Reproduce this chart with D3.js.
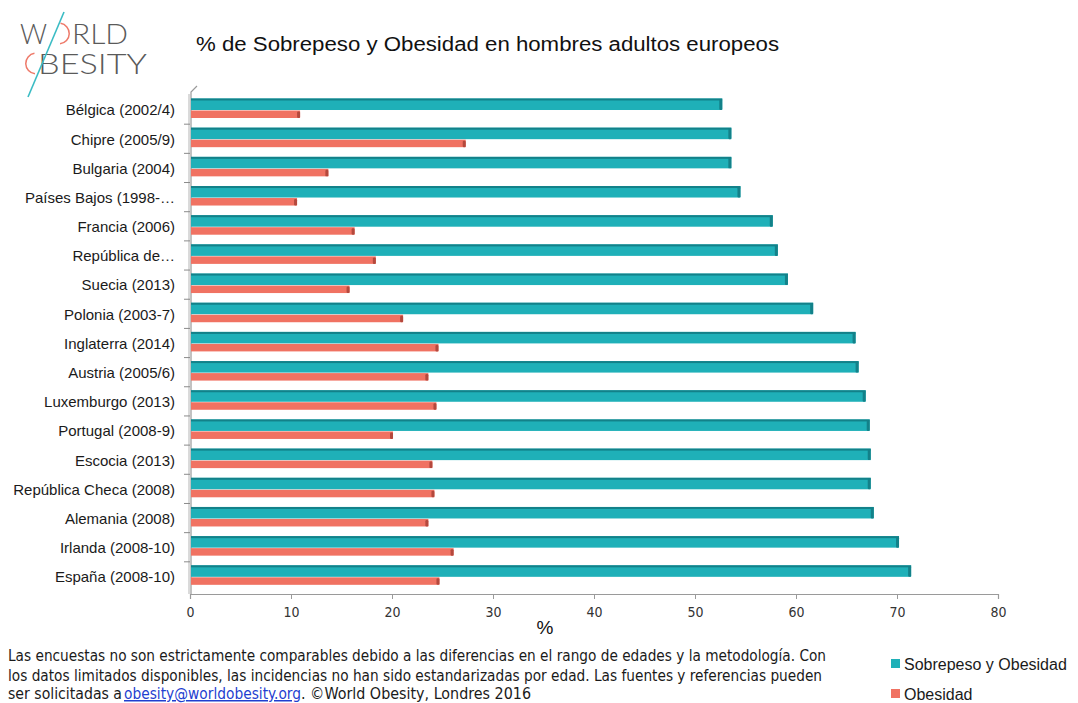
<!DOCTYPE html>
<html>
<head>
<meta charset="utf-8">
<script src="https://cdn.jsdelivr.net/npm/d3@7"></script>
<style>
  body { margin: 0; background: #fff; }
  svg { display: block; }
</style>
</head>
<body>
<div id="chart"></div>
<script>
// data
const categories = [
  'Bélgica (2002/4)', 'Chipre (2005/9)', 'Bulgaria (2004)', 'Países Bajos (1998-…',
  'Francia (2006)', 'República de…', 'Suecia (2013)', 'Polonia (2003-7)',
  'Inglaterra (2014)', 'Austria (2005/6)', 'Luxemburgo (2013)', 'Portugal (2008-9)',
  'Escocia (2013)', 'República Checa (2008)', 'Alemania (2008)', 'Irlanda (2008-10)',
  'España (2008-10)'
];
const sobrepeso = [52.7, 53.6, 53.6, 54.5, 57.7, 58.2, 59.2, 61.7, 65.9, 66.2, 66.9, 67.3, 67.4, 67.4, 67.7, 70.2, 71.4];
const obesidad = [10.9, 27.3, 13.7, 10.6, 16.3, 18.4, 15.8, 21.1, 24.6, 23.6, 24.4, 20.1, 24.0, 24.2, 23.6, 26.1, 24.7];
const xTicks = [0, 10, 20, 30, 40, 50, 60, 70, 80];
const seriesNames = ['Sobrepeso y Obesidad', 'Obesidad'];

const width = 1078;
const height = 703;
const teal = '#1fb0b8';
const tealDark = '#138189';
const red = '#f07262';
const redDark = '#b4493d';

const svg = d3.select('#chart')
  .append('svg')
  .attr('width', width)
  .attr('height', height);

svg.append('rect').attr('width', width).attr('height', height).attr('fill', '#fff');

const x = d3.scaleLinear().domain([0, 80]).range([190, 998]);
const y = d3.scaleBand().domain(categories).range([96, 592]);
const axisY = 594;

// title
svg.append('text')
  .attr('x', 196).attr('y', 51)
  .attr('font-family', 'Liberation Sans, Arial, sans-serif')
  .attr('font-size', 20)
  .attr('fill', '#111')
  .attr('textLength', 583)
  .attr('lengthAdjust', 'spacingAndGlyphs')
  .text('% de Sobrepeso y Obesidad en hombres adultos europeos');

// logo
const logo = svg.append('g')
  .attr('font-family', 'Lato, Open Sans, sans-serif')
  .attr('font-weight', 300)
  .attr('font-size', 27)
  .attr('fill', '#5a5a5a');
logo.append('text').attr('x', 20).attr('y', 44).attr('textLength', 27).attr('lengthAdjust', 'spacingAndGlyphs').text('W');
logo.append('text').attr('x', 72).attr('y', 44).attr('textLength', 56).attr('lengthAdjust', 'spacingAndGlyphs').text('RLD');
logo.append('text').attr('x', 38).attr('y', 74).attr('textLength', 109).attr('lengthAdjust', 'spacingAndGlyphs').text('BESITY');
logo.append('path')
  .attr('d', d3.arc()({ innerRadius: 9.5, outerRadius: 11, startAngle: 0.15, endAngle: Math.PI - 0.1 }))
  .attr('transform', 'translate(59,33.5)')
  .attr('fill', '#ee7a6a');
logo.append('path')
  .attr('d', d3.arc()({ innerRadius: 9.5, outerRadius: 11, startAngle: Math.PI + 0.1, endAngle: 2 * Math.PI - 0.15 }))
  .attr('transform', 'translate(36,63.5)')
  .attr('fill', '#ee7a6a');
logo.append('line')
  .attr('x1', 64).attr('y1', 12).attr('x2', 28).attr('y2', 97)
  .attr('stroke', '#3bbcc4').attr('stroke-width', 1.6);

// axes
const g = svg.append('g');

// y axis wall (3D look)
g.append('path')
  .attr('d', `M${x(0) + 1},${axisY} L${x(0) + 1},${y.range()[0] - 4} L${x(0) + 7},${y.range()[0] - 10}`)
  .attr('fill', 'none').attr('stroke', '#9a9a9a').attr('stroke-width', 1.2);
g.append('path')
  .attr('d', `M${x(0) - 1},${axisY} L${x(0) - 1},${y.range()[0] - 2}`)
  .attr('fill', 'none').attr('stroke', '#b5b5b5').attr('stroke-width', 1);

const yAxis = d3.axisLeft(y).tickSize(0).tickPadding(14);
const yg = g.append('g')
  .attr('transform', `translate(${x(0) - 1},0)`)
  .call(yAxis);
yg.select('.domain').remove();
yg.selectAll('text')
  .attr('font-family', 'Liberation Sans, Arial, sans-serif')
  .attr('font-size', 15)
  .attr('fill', '#1a1a1a');

// y ticks between categories
g.selectAll('.ytick')
  .data(categories.slice(1))
  .enter()
  .append('line')
  .attr('x1', x(0) - 6).attr('x2', x(0))
  .attr('y1', d => y(d) - 1).attr('y2', d => y(d) - 1)
  .attr('stroke', '#8a8a8a');

const xAxis = d3.axisBottom(x).tickValues(xTicks).tickSize(5).tickPadding(8);
const xg = g.append('g')
  .attr('transform', `translate(0,${axisY})`)
  .call(xAxis);
xg.select('.domain').attr('stroke', '#9a9a9a').attr('stroke-width', 1.2);
xg.selectAll('.tick line').attr('stroke', '#9a9a9a');
xg.selectAll('text')
  .attr('font-family', 'Liberation Sans Narrow, DejaVu Sans Condensed, sans-serif')
  .attr('font-size', 14)
  .attr('fill', '#333');

svg.append('text')
  .attr('x', 545).attr('y', 634)
  .attr('text-anchor', 'middle')
  .attr('font-family', 'Liberation Sans, Arial, sans-serif')
  .attr('font-size', 19)
  .attr('fill', '#111')
  .text('%');

// bars
function drawBars(values, top, h, fill, dark, topStrip) {
  const bars = svg.append('g').selectAll('g')
    .data(values.map((v, i) => ({ cat: categories[i], v })))
    .enter()
    .append('g');
  bars.append('rect')
    .attr('x', x(0) + 1)
    .attr('y', d => y(d.cat) + top)
    .attr('width', d => x(d.v) - x(0) - 1)
    .attr('height', h)
    .attr('fill', fill);
  if (topStrip) {
    bars.append('rect')
      .attr('x', x(0) + 1)
      .attr('y', d => y(d.cat) + top)
      .attr('width', d => x(d.v) - x(0) - 1)
      .attr('height', 2)
      .attr('fill', dark);
  }
  bars.append('rect')
    .attr('x', d => x(d.v) - 3)
    .attr('y', d => y(d.cat) + top + 1)
    .attr('width', 3)
    .attr('height', h - 1)
    .attr('rx', 1.2)
    .attr('fill', dark);
}

drawBars(sobrepeso, 2.5, 11.5, teal, tealDark, true);
drawBars(obesidad, 14.5, 7.5, red, redDark, false);

// footer
const foot = svg.append('g')
  .attr('font-family', 'Liberation Sans Narrow, DejaVu Sans Condensed, sans-serif')
  .attr('font-size', 15)
  .attr('fill', '#1a1a1a');
foot.append('text').attr('x', 8).attr('y', 661).attr('textLength', 818).attr('lengthAdjust', 'spacingAndGlyphs')
  .text('Las encuestas no son estrictamente comparables debido a las diferencias en el rango de edades y la metodología. Con');
foot.append('text').attr('x', 8).attr('y', 681).attr('textLength', 814).attr('lengthAdjust', 'spacingAndGlyphs')
  .text('los datos limitados disponibles, las incidencias no han sido estandarizadas por edad. Las fuentes y referencias pueden');
foot.append('text').attr('x', 8).attr('y', 699).attr('textLength', 114).attr('lengthAdjust', 'spacingAndGlyphs')
  .text('ser solicitadas a');
foot.append('text').attr('x', 124).attr('y', 699).attr('textLength', 177).attr('lengthAdjust', 'spacingAndGlyphs')
  .attr('fill', '#1f3fd0').attr('text-decoration', 'underline')
  .text('obesity@worldobesity.org');
foot.append('text').attr('x', 301).attr('y', 699).attr('textLength', 230).attr('lengthAdjust', 'spacingAndGlyphs')
  .text('. ©World Obesity, Londres  2016');

// legend
const legend = svg.append('g')
  .attr('font-family', 'Liberation Sans, Arial, sans-serif')
  .attr('font-size', 16)
  .attr('fill', '#1a1a1a');
const legendColors = [teal, red];
seriesNames.forEach((name, i) => {
  const ly = 659 + i * 30;
  legend.append('rect').attr('x', 891).attr('y', ly).attr('width', 9).attr('height', 9).attr('fill', legendColors[i]);
  legend.append('text').attr('x', 904).attr('y', ly + 11).text(name);
});
</script>
</body>
</html>
